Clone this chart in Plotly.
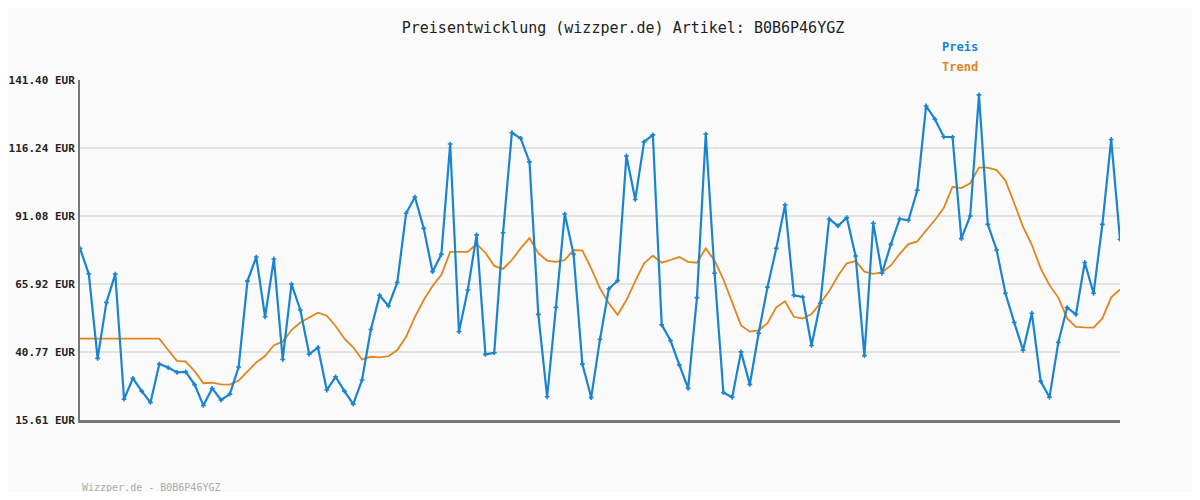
import plotly.graph_objects as go

preis = [79.1,69.6,38.4,59.1,69.6,23.3,31.0,26.3,22.1,36.3,35.0,33.2,33.4,28.7,21.0,27.3,23.0,25.2,35.2,67.0,
75.9,53.8,75.2,38.0,65.9,56.3,40.0,42.4,26.7,31.6,26.3,21.5,30.4,49.1,61.7,57.8,66.5,92.1,98.1,86.5,70.5,
76.9,117.7,48.3,63.7,84.1,39.9,40.5,84.9,121.9,119.8,111.1,54.7,24.2,57.3,91.8,77.0,36.3,23.9,45.5,64.1,
67.2,113.3,97.2,118.5,121.1,50.8,45.0,36.0,27.3,60.9,121.4,69.9,25.8,24.0,40.8,28.8,47.7,64.7,79.1,
95.2,61.7,61.1,43.2,58.8,90.0,87.4,90.5,76.3,39.4,88.4,69.9,80.6,90.0,89.5,100.6,131.8,126.9,120.4,120.3,
82.7,91.1,135.9,88.0,78.5,62.5,51.7,41.4,55.1,29.9,24.0,44.3,57.2,54.7,73.9,62.5,88.0,119.4,82.4]
trend = [45.7]*10 + [41.5,37.5,37.2,33.7,29.2,29.4,28.8,28.7,30.2,33.5,36.9,39.3,43.3,44.6,48.9,51.7,53.6,55.3,54.2,50.4,
45.7,42.5,38.0,39.0,38.8,39.2,41.5,46.4,53.8,60.0,65.2,
69.3,77.8,77.8,77.8,80.7,77.5,72.6,71.5,74.8,79.1,82.9,77.3,74.6,74.1,74.8,78.5,78.3,71.7,64.3,58.8,54.5,60.0,
67.0,73.6,76.4,73.8,74.8,75.9,74.1,73.8,79.1,74.6,67.6,58.8,50.6,48.3,48.8,51.4,57.3,
59.5,53.8,53.1,54.8,58.8,63.3,69.0,73.6,74.4,70.5,69.7,70.2,72.8,77.1,80.7,81.7,85.7,89.6,94.0,101.9,101.4,
103.2,109.0,109.0,108.1,104.2,95.8,87.1,80.4,71.7,65.5,60.9,53.2,50.1,49.9,49.8,53.2,61.0,63.9]
idx = list(range(len(preis)))
ticks = [15.61, 40.77, 65.92, 91.08, 116.24, 141.40]
ticktext = [f"<b>{t:.2f} EUR</b>" for t in ticks]

BLUE = "#1a84d0"; ORANGE = "#e0861c"
mono = "DejaVu Sans Mono"
OFF = 8  # page body margin
L, T, PW, PH = 80 - OFF, 80 - OFF, 1040, 340

def px(x, y):
    return (x - OFF - L) / PW, 1 - (y - OFF - T) / PH

fig = go.Figure()
fig.add_trace(go.Scatter(x=idx, y=trend, mode="lines", line=dict(color=ORANGE, width=1.8), name="Trend"))
fig.add_trace(go.Scatter(x=idx, y=preis, mode="lines+markers", line=dict(color=BLUE, width=2.2),
                         marker=dict(symbol="cross", size=4, color=BLUE), name="Preis"))
ann = []
for text, x, y, col, sz in [("<b>Preis</b>", 940, 47, BLUE, 12), ("<b>Trend</b>", 940, 67, ORANGE, 12),
                            ("Wizzper.de - B0B6P46YGZ", 80, 487, "#aaa", 10)]:
    ax, ay = px(x, y)
    ann.append(dict(text=text, x=ax, y=ay, xref="paper", yref="paper", showarrow=False,
                    font=dict(color=col, size=sz, family=mono), xanchor="left", yanchor="middle"))
fig.update_layout(
    width=1184, height=484, showlegend=False,
    paper_bgcolor="#fafafa", plot_bgcolor="#fafafa",
    margin=dict(l=L, r=1184 - L - PW, t=T, b=484 - T - PH, autoexpand=False),
    font=dict(family=mono, size=11, color="#222"),
    title=dict(text="Preisentwicklung (wizzper.de) Artikel: B0B6P46YGZ", x=(623 - OFF) / 1184, y=1 - (28 - OFF) / 484,
               xanchor="center", yanchor="middle", font=dict(family=mono, size=15, color="#222")),
    xaxis=dict(range=[0, len(preis)-1], showticklabels=False, showgrid=False, zeroline=False,
               showline=True, linecolor="#777", linewidth=3, ticks="", automargin=False),
    yaxis=dict(range=[15.61, 141.40], tickvals=ticks, ticktext=ticktext, automargin=False,
               showgrid=True, gridcolor="#e2e2e2", gridwidth=2, zeroline=False,
               showline=True, linecolor="#777", linewidth=2, ticks="", ticklabelstandoff=1,
               tickfont=dict(size=11, color="#222", family=mono)),
    annotations=ann,
)
fig.write_html("out.html")
